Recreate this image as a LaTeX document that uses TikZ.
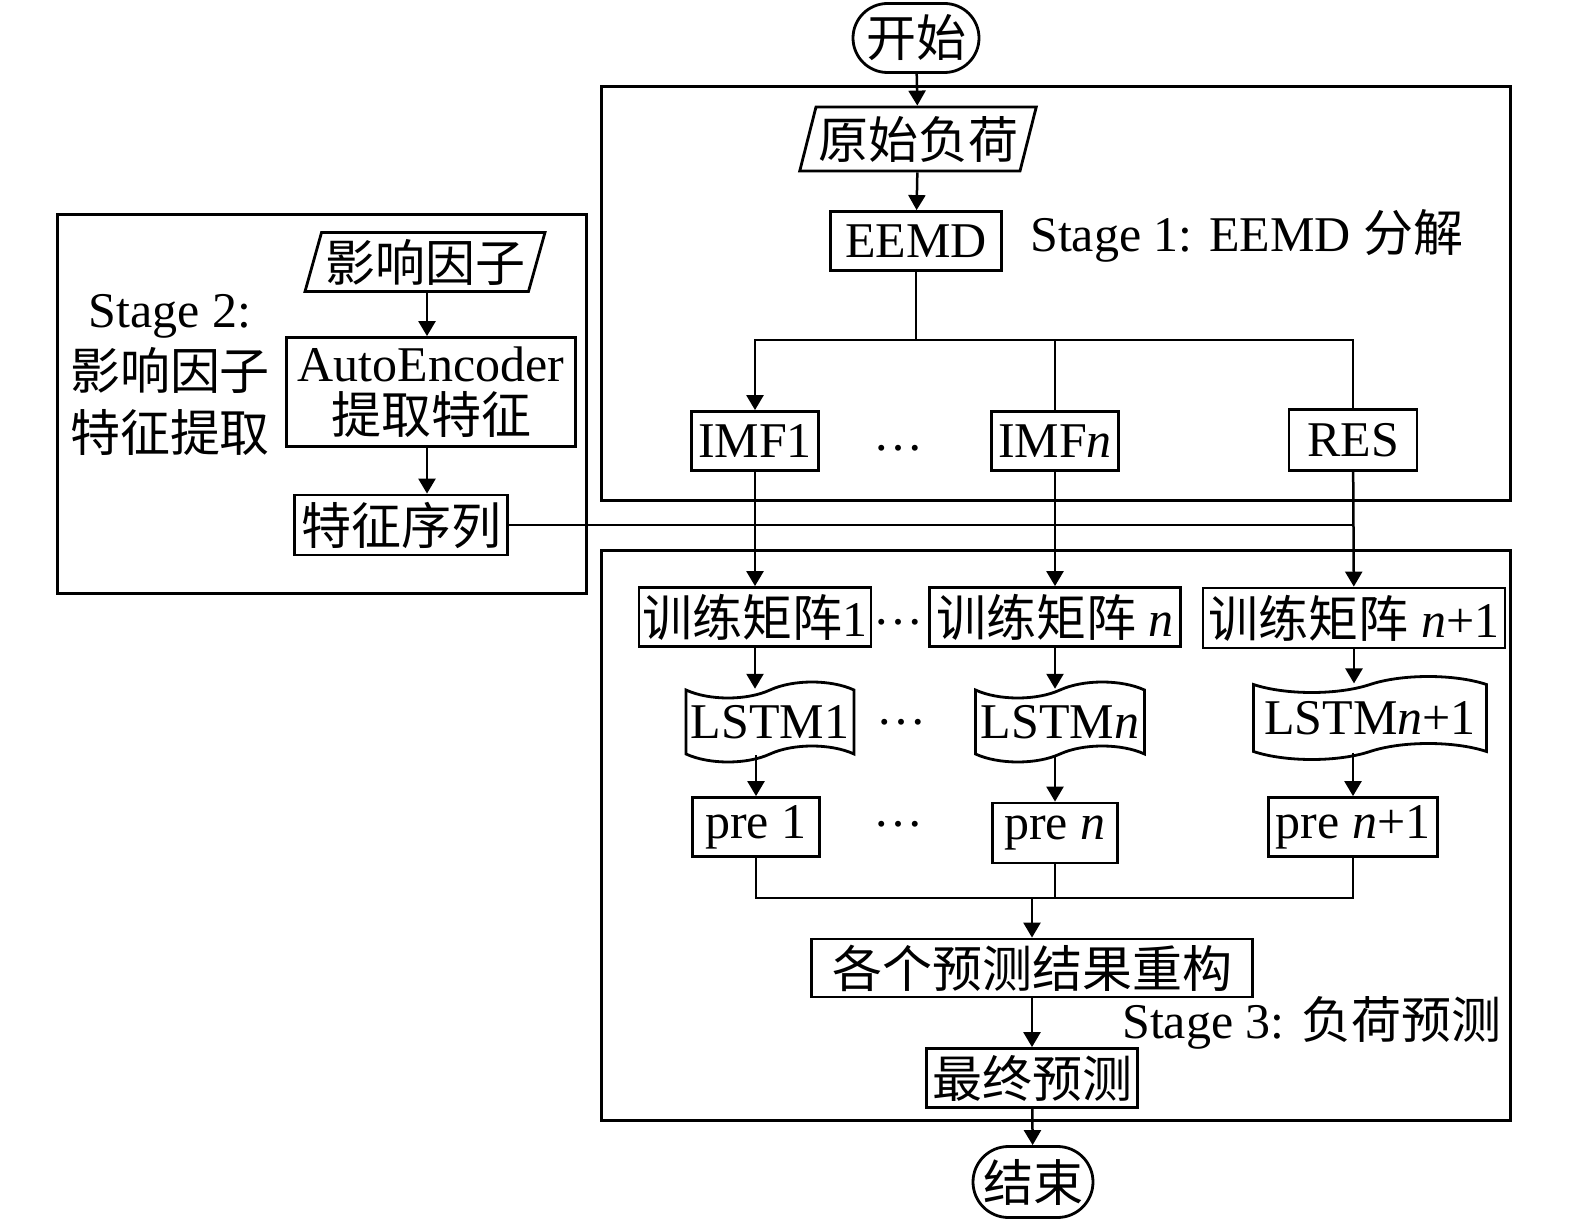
\documentclass[tikz,border=0pt]{standalone}
\usepackage{fontspec}
\setmainfont{Liberation Serif}
\newfontfamily\cjk{Noto Sans CJK SC}
\usetikzlibrary{arrows.meta,shapes.geometric,shapes.misc,shapes.symbols}

\begin{document}
\begin{tikzpicture}[x=1pt,y=-1pt,
  font=\fontsize{50}{55}\selectfont,
  box/.style={draw, line width=2.8pt, inner sep=2pt, minimum height=59pt},
  io/.style={draw, line width=2.8pt, trapezium, trapezium left angle=72,
    trapezium right angle=108, trapezium stretches=true, inner sep=2pt},
  term/.style={draw, line width=2.8pt, rounded rectangle, inner sep=2pt},
  lstm/.style={draw, line width=2.8pt, tape, tape bend height=16pt, inner sep=2pt},
  frame/.style={line width=3pt},
  link/.style={line width=2.5pt},
  arr/.style={link, -{Triangle[length=15pt,width=17pt]}}]
			\useasboundingbox (0,0) rectangle (1575,1222);
			
			%%%%% FRAMES %%%%%
			\draw[frame] (601,87) rectangle (1510,500);
			\draw[frame] (57,215) rectangle (586,593);
			\draw[frame] (601,550) rectangle (1510,1120);
			
			%%%%% STAGE 1 %%%%%
			\node[term, minimum width=130pt, minimum height=69pt] (start) at (916,38) {\cjk 开始};
			\node[io, minimum width=235pt, minimum height=64pt] (raw) at (918,139) {\cjk 原始负荷};
			\node[box, minimum width=171pt] (eemd) at (916,241) {EEMD};
			\node[anchor=west, inner sep=0pt] (s1) at (1030,236) {Stage 1: EEMD {\cjk 分解}};
			
			\node[box, minimum width=127pt] (imf1) at (755,441) {IMF1};
			\node (dots1) at (898,448) {\dots};
			\node[box, minimum width=127pt] (imfn) at (1055,441) {IMF\textit{n}};
			\node[box, minimum width=128pt, minimum height=61pt] (res) at (1353,440) {RES};
			
			\draw[arr] (start) -- (raw);
			\draw[arr] (raw) -- (eemd);
			\coordinate (split) at (916,340);
			\draw[link] (eemd) -- (split);
			\draw[arr] (split) -| (imf1);
			\draw[link] (split) -| (imfn);
			\draw[link] (split) -| (res);
			
			%%%%% STAGE 2 %%%%%
			\node[align=center, font=\fontsize{50}{62}\selectfont] (s2) at (170,375)
			  {Stage 2:\\{\cjk 影响因子}\\{\cjk 特征提取}};
			\node[io, minimum width=240pt, minimum height=59pt] (infl) at (425,262) {\cjk 影响因子};
			\node[box, minimum width=289pt, minimum height=109pt, align=center,
			  font=\fontsize{50}{52}\selectfont] (ae) at (431,392) {AutoEncoder\\{\cjk 提取特征}};
			\node[box, minimum width=213pt, minimum height=60pt] (feat) at (401,525) {\cjk 特征序列};
			
			\draw[arr] (infl.south -| 427,0) -- (ae.north -| 427,0);
			\draw[arr] (ae.south -| 427,0) -- (feat.north -| 427,0);
			\draw[link] (feat) -- (feat -| res.south);
			
			%%%%% STAGE 3 %%%%%
			\node[box, minimum width=232pt] (train1) at (755,617) {{\cjk 训练矩阵}1};
			\node (dots2) at (898,622) {\dots};
			\node[box, minimum width=251pt] (trainn) at (1055,617) {{\cjk 训练矩阵} \textit{n}};
			\node[box, minimum width=302pt, minimum height=60pt] (trainn1) at (1354,618) {{\cjk 训练矩阵} \textit{n}+1};
			
			\node[lstm, minimum width=168pt, minimum height=80pt] (lstm1) at (770,722) {LSTM1};
			\node (dots3) at (901,722) {\dots};
			\node[lstm, minimum width=169pt, minimum height=80pt] (lstmn) at (1060,722) {LSTM\textit{n}};
			\node[lstm, minimum width=233pt, minimum height=83pt] (lstmn1) at (1370,718) {LSTM\textit{n}+1};
			
			\node[box, minimum width=127pt] (pre1) at (756,827) {pre 1};
			\node (dots4) at (898,824) {\dots};
			\node[box, minimum width=125pt, minimum height=60pt] (pren) at (1055,833) {pre \textit{n}};
			\node[box, minimum width=169pt] (pren1) at (1353,827) {pre \textit{n}+1};
			
			\node[box, minimum width=441pt, minimum height=58pt] (recon) at (1032,968) {\cjk 各个预测结果重构};
			\node[anchor=west, inner sep=0pt] (s3) at (1122,1023) {Stage 3: {\cjk 负荷预测}};
			\node[box, minimum width=211pt] (final) at (1032,1078) {\cjk 最终预测};
			\node[term, minimum width=124pt, minimum height=71pt] (end) at (1033,1182) {\cjk 结束};
			
			\draw[arr] (imf1) -- (train1);
			\draw[arr] (imfn) -- (trainn);
			\draw[arr] (res) -- (trainn1);
			
			\draw[arr] (train1) -- (train1.south |- lstm1.north);
			\draw[arr] (trainn) -- (trainn.south |- lstmn.north);
			\draw[arr] (trainn1) -- (trainn1.south |- lstmn1.north);
			\draw[arr] (pre1.north |- lstm1.south) -- (pre1);
			\draw[arr] (pren.north |- lstmn.south) -- (pren);
			\draw[arr] (pren1.north |- lstmn1.south) -- (pren1);
			
			\coordinate (merge) at (1032,898);
			\draw[link] (pre1) |- (merge -| pren1) -- (pren1);
			\draw[link] (pren) -- (pren |- merge);
			\draw[arr] (merge) -- (recon);
			\draw[arr] (recon) -- (final);
			\draw[arr] (final) -- (end);
\end{tikzpicture}
\end{document}
